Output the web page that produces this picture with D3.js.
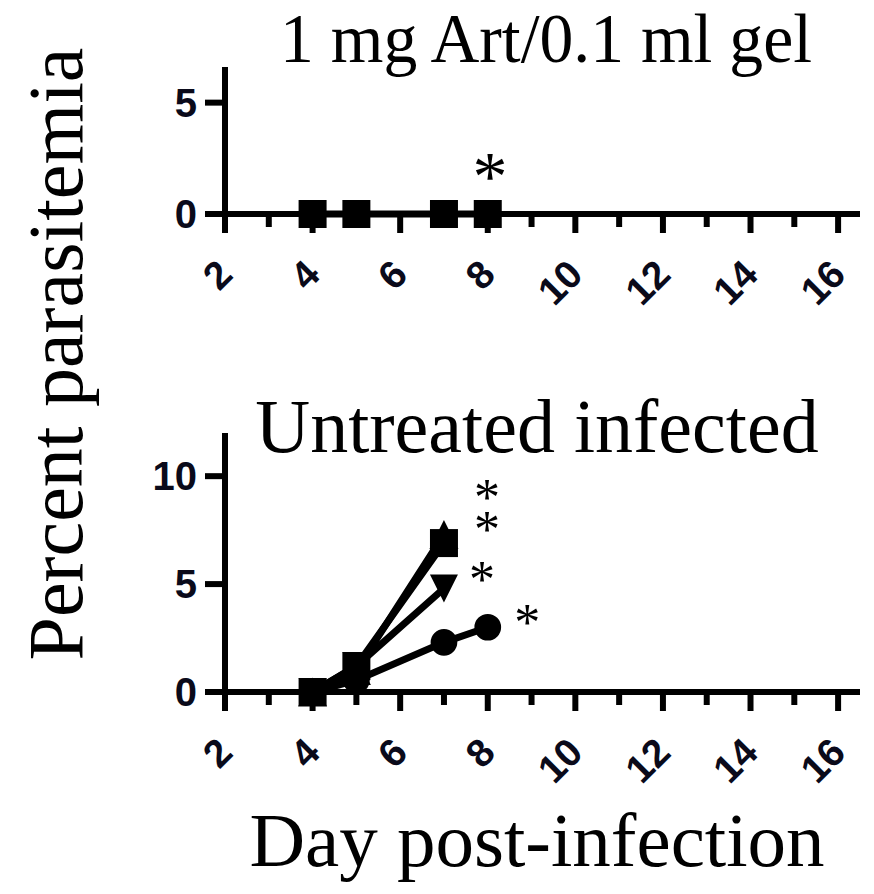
<!DOCTYPE html>
<html>
<head>
<meta charset="utf-8">
<script src="https://cdn.jsdelivr.net/npm/d3@7"></script>
<style>
  body { margin: 0; background: #fff; }
  svg { display: block; }
  .tick-label { font-family: 'Liberation Sans', Arial, sans-serif; font-weight: bold; font-size: 39px; fill: #0a0a1a; }
  .serif { font-family: 'Liberation Serif', 'Times New Roman', serif; fill: #000; }
</style>
</head>
<body>
<div id="chart"></div>
<script>
// x axis: day post-infection
const xTicks = [2, 4, 6, 8, 10, 12, 14, 16],
      xMinor = [3, 5, 7, 9, 11, 13, 15];

// top panel: 1 mg Art/0.1 ml gel
const gelDays = [4, 5, 7, 8],
      gelValues = [0, 0, 0, 0],
      gelTicks = [0, 5];
const gelStars = [{ day: 8.05, value: 2.1 }];

// bottom panel: untreated infected, four mice
const untreatedSeries = [
  { symbol: 'circle', days: [4, 5, 7, 8], values: [0, 0.55, 2.3, 3.0] },
  { symbol: 'down',   days: [4, 5, 7],    values: [0, 1.2, 4.8] },
  { symbol: 'up',     days: [4, 5, 7],    values: [0, 1.0, 7.3] },
  { symbol: 'square', days: [4, 5, 7],    values: [0, 1.2, 6.9] }
];
const untreatedTicks = [0, 5, 10];
const untreatedStars = [
  { day: 7.98, value: 9.35 },
  { day: 7.98, value: 7.85 },
  { day: 7.87, value: 5.55 },
  { day: 8.9,  value: 3.55 }
];

const width = 874, height = 894;

const svg = d3.select('#chart').append('svg')
    .attr('width', width)
    .attr('height', height);

const xScale = d3.scaleLinear().domain([2, 16.5]).range([225, 860]);

// triangles centred on their bounding box, like the plotting program draws them
const triUp = {
  draw(context, size) {
    const s = Math.sqrt(size) / 2;
    context.moveTo(0, -s); context.lineTo(s, s); context.lineTo(-s, s); context.closePath();
  }
};
const triDown = {
  draw(context, size) {
    const s = Math.sqrt(size) / 2;
    context.moveTo(0, s); context.lineTo(s, -s); context.lineTo(-s, -s); context.closePath();
  }
};

const symbolTypes = { circle: d3.symbolCircle, square: d3.symbolSquare, up: triUp, down: triDown },
      symbolSizes = { circle: 560, square: 784, up: 840, down: 784 };

function drawPanel(yScale, yTicks) {
  const g = svg.append('g');
  const y0 = yScale(0);

  // x axis line + ticks
  g.append('line')
      .attr('x1', xScale(2)).attr('x2', xScale(16.5))
      .attr('y1', y0).attr('y2', y0)
      .attr('stroke', '#000').attr('stroke-width', 6);
  g.selectAll('.xmajor').data(xTicks).enter().append('line')
      .attr('x1', d => xScale(d)).attr('x2', d => xScale(d))
      .attr('y1', y0).attr('y2', y0 + 19)
      .attr('stroke', '#000').attr('stroke-width', 6);
  g.selectAll('.xminor').data(xMinor).enter().append('line')
      .attr('x1', d => xScale(d)).attr('x2', d => xScale(d))
      .attr('y1', y0).attr('y2', y0 + 13)
      .attr('stroke', '#000').attr('stroke-width', 6);
  g.selectAll('.xlabel').data(xTicks).enter().append('text')
      .attr('class', 'tick-label')
      .attr('text-anchor', 'end')
      .attr('dominant-baseline', 'central')
      .attr('transform', d => 'translate(' + xScale(d) + ',' + (y0 + 53) + ') rotate(-45)')
      .text(d => d);

  // y axis line + ticks
  const top = yScale.range()[1];
  g.append('line')
      .attr('x1', xScale(2)).attr('x2', xScale(2))
      .attr('y1', top).attr('y2', y0 + 19)
      .attr('stroke', '#000').attr('stroke-width', 6);
  g.selectAll('.ytick').data(yTicks).enter().append('line')
      .attr('x1', xScale(2) - 20).attr('x2', xScale(2))
      .attr('y1', d => yScale(d)).attr('y2', d => yScale(d))
      .attr('stroke', '#000').attr('stroke-width', 6);
  g.selectAll('.ylabel').data(yTicks).enter().append('text')
      .attr('class', 'tick-label')
      .attr('x', xScale(2) - 28)
      .attr('y', d => yScale(d) + 14)
      .attr('text-anchor', 'end')
      .style('font-size', '40px')
      .text(d => d);

  return g;
}

function drawSymbols(g, yScale, series) {
  const line = d3.line().x(d => xScale(d[0])).y(d => yScale(d[1]));
  series.forEach(s => {
    const pts = s.days.map((d, i) => [d, s.values[i]]);
    g.append('path')
        .attr('d', line(pts))
        .attr('fill', 'none')
        .attr('stroke', '#000')
        .attr('stroke-width', 7);
    g.selectAll(null).data(pts).enter().append('path')
        .attr('d', d3.symbol().type(symbolTypes[s.symbol]).size(symbolSizes[s.symbol]))
        .attr('transform', d => 'translate(' + xScale(d[0]) + ',' + yScale(d[1]) + ')')
        .attr('fill', '#000');
  });
}

// significance marks; one text element per panel, one tspan per mark
function drawStars(g, yScale, stars, size) {
  g.append('text')
      .attr('class', 'serif')
      .attr('text-anchor', 'middle')
      .style('font-size', size + 'px')
    .selectAll('tspan')
      .data(stars)
    .enter().append('tspan')
      .attr('x', d => xScale(d.day))
      .attr('y', d => yScale(d.value) + size * 0.47)
      .text('*');
}

// top panel
const yGel = d3.scaleLinear().domain([0, 6.6]).range([214, 67]);
const gTop = drawPanel(yGel, gelTicks);
drawSymbols(gTop, yGel, [{ symbol: 'square', days: gelDays, values: gelValues }]);
drawStars(gTop, yGel, gelStars, 70);

// bottom panel
const yUnt = d3.scaleLinear().domain([0, 12]).range([692, 433]);
const gBot = drawPanel(yUnt, untreatedTicks);
drawSymbols(gBot, yUnt, untreatedSeries);
drawStars(gBot, yUnt, untreatedStars, 52);

// titles and axis labels
svg.append('text')
    .attr('class', 'serif')
    .attr('x', 546).attr('y', 62)
    .attr('text-anchor', 'middle')
    .attr('textLength', 532)
    .attr('lengthAdjust', 'spacingAndGlyphs')
    .style('font-size', '70px')
    .text('1 mg Art/0.1 ml gel');

svg.append('text')
    .attr('class', 'serif')
    .attr('x', 537).attr('y', 452)
    .attr('text-anchor', 'middle')
    .style('font-size', '76px')
    .text('Untreated infected');

svg.append('text')
    .attr('class', 'serif')
    .attr('x', 537).attr('y', 866)
    .attr('text-anchor', 'middle')
    .style('font-size', '77px')
    .text('Day post-infection');

svg.append('text')
    .attr('class', 'serif')
    .attr('transform', 'translate(82,354) rotate(-90)')
    .attr('text-anchor', 'middle')
    .style('font-size', '78px')
    .text('Percent parasitemia');
</script>
</body>
</html>
